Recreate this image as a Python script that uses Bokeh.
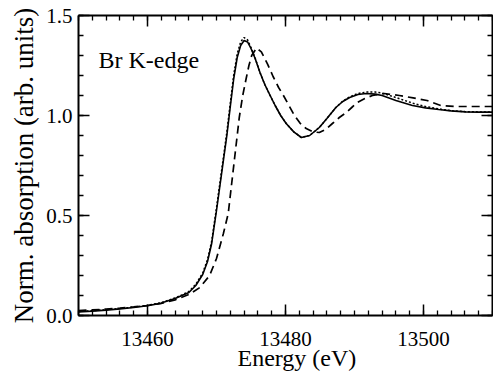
from bokeh.plotting import figure
from bokeh.models import (LinearAxis, SingleIntervalTicker, Label, Range1d, Title,
                          NumeralTickFormatter, CustomJSTickFormatter)
from bokeh.embed import file_html
from bokeh.resources import INLINE

# Br K-edge XANES spectra: normalized absorption vs photon energy
energy_solid = [13450, 13452, 13454, 13456, 13458, 13460, 13462, 13464, 13465, 13466,
                13467, 13468, 13468.7, 13469.3, 13470.0, 13470.5, 13471.0, 13471.5, 13472.0,
                13472.5, 13473.0, 13473.5, 13474.0, 13474.5, 13475.0, 13475.6, 13476.3,
                13477.0, 13477.7, 13478.5, 13479.3, 13480.1, 13481.2, 13482.3, 13483.5,
                13484.9, 13486.0, 13487.3, 13488.3, 13489.3, 13490.5, 13491.7, 13493.0,
                13494.0, 13496.0, 13498.4, 13500.3, 13502.2, 13504.0, 13506.1, 13508.0, 13510.0]
absorb_solid = [0.018, 0.022, 0.027, 0.033, 0.040, 0.049, 0.062, 0.085, 0.100, 0.115,
                0.150, 0.205, 0.270, 0.360, 0.525, 0.650, 0.775, 0.900, 1.045,
                1.185, 1.290, 1.350, 1.375, 1.368, 1.335, 1.285, 1.215,
                1.155, 1.105, 1.050, 1.000, 0.960, 0.918, 0.890, 0.900,
                0.940, 0.985, 1.040, 1.070, 1.090, 1.105, 1.110, 1.107,
                1.100, 1.075, 1.050, 1.038, 1.030, 1.023, 1.018, 1.017, 1.017]

energy_dotted = [13450, 13452, 13454, 13456, 13458, 13460, 13462, 13464, 13465, 13466,
                 13467, 13468, 13468.7, 13469.3, 13470.0, 13470.5, 13471.0, 13471.5, 13472.0,
                 13472.5, 13473.0, 13473.5, 13474.0, 13474.5, 13475.0, 13475.6, 13476.3,
                 13477.0, 13477.7, 13478.5, 13479.3, 13480.1, 13481.2, 13482.3, 13483.5,
                 13484.9, 13486.0, 13487.3, 13488.3, 13489.3, 13490.5, 13491.7, 13493.0,
                 13494.0, 13496.0, 13498.4, 13500.3, 13502.2, 13504.0, 13506.1, 13508.0, 13510.0]
absorb_dotted = [0.020, 0.024, 0.029, 0.035, 0.042, 0.051, 0.064, 0.088, 0.103, 0.120,
                 0.156, 0.212, 0.280, 0.372, 0.538, 0.665, 0.790, 0.917, 1.062,
                 1.203, 1.308, 1.368, 1.390, 1.378, 1.340, 1.287, 1.215,
                 1.155, 1.105, 1.050, 1.000, 0.960, 0.918, 0.890, 0.900,
                 0.940, 0.985, 1.040, 1.072, 1.093, 1.110, 1.117, 1.117,
                 1.112, 1.090, 1.062, 1.045, 1.033, 1.024, 1.019, 1.018, 1.018]

energy_dashed = [13450, 13452, 13454, 13456, 13458, 13460, 13462, 13464, 13466, 13467.6,
                 13469.0, 13470.0, 13471.0, 13471.7, 13472.2, 13472.7, 13473.3, 13473.8,
                 13474.3, 13474.7, 13475.1, 13475.8, 13476.5, 13477.4, 13478.2, 13479.0,
                 13479.7, 13480.5, 13481.3, 13482.1, 13483.0, 13484.0, 13484.9, 13485.8,
                 13486.8, 13487.8, 13488.8, 13489.6, 13490.4, 13491.5, 13492.6, 13494.3,
                 13496.5, 13498.5, 13500.5, 13502.5, 13504.6, 13507.0, 13510.0]
absorb_dashed = [0.025, 0.028, 0.032, 0.037, 0.043, 0.050, 0.060, 0.078, 0.105, 0.140,
                 0.200, 0.285, 0.410, 0.510, 0.660, 0.810, 0.990, 1.100,
                 1.185, 1.250, 1.300, 1.337, 1.318, 1.257, 1.195, 1.140,
                 1.100, 1.050, 1.000, 0.962, 0.935, 0.918, 0.915, 0.930,
                 0.960, 0.990, 1.015, 1.040, 1.065, 1.085, 1.100, 1.110,
                 1.100, 1.088, 1.075, 1.050, 1.045, 1.045, 1.045]

x_tick_interval = 20
y_tick_interval = 0.5

SERIF = "Liberation Serif"

p = figure(width=493, height=372, output_backend="svg", toolbar_location=None,
           x_range=Range1d(13450, 13510), y_range=Range1d(0, 1.5),
           x_axis_type=None, y_axis_type=None,
           min_border_left=78, min_border_right=1, min_border_top=15, min_border_bottom=57)
p.outline_line_color = None
p.xgrid.visible = False
p.ygrid.visible = False
p.background_fill_color = "white"
p.border_fill_color = "white"


def frame_axis(axis, ticker, labels):
    axis.ticker = ticker
    axis.axis_line_width = 2
    axis.axis_line_color = "black"
    axis.major_tick_in = 11
    axis.major_tick_out = 0
    axis.minor_tick_in = 5
    axis.minor_tick_out = 0
    axis.major_tick_line_width = 1.5
    axis.minor_tick_line_width = 1.3
    axis.major_tick_line_color = "black"
    axis.minor_tick_line_color = "black"
    if labels:
        axis.major_label_text_font = SERIF
        axis.major_label_text_font_size = "21px"
        axis.major_label_text_color = "black"
    else:
        # mirrored frame side: ticks only
        axis.formatter = CustomJSTickFormatter(code="return ''")
        axis.major_label_text_font_size = "0px"
        axis.major_label_standoff = 0
    return axis


x_ticker = SingleIntervalTicker(interval=x_tick_interval, num_minor_ticks=10)
y_ticker = SingleIntervalTicker(interval=y_tick_interval, num_minor_ticks=5)

bottom = frame_axis(LinearAxis(formatter=NumeralTickFormatter(format="0")), x_ticker, True)
bottom.major_label_standoff = 16
p.add_layout(bottom, "below")

left = frame_axis(LinearAxis(formatter=NumeralTickFormatter(format="0.0")), y_ticker, True)
left.major_label_standoff = 6
left.axis_label = "Norm. absorption (arb. units)"
left.axis_label_text_font = SERIF
left.axis_label_text_font_size = "27px"
left.axis_label_text_font_style = "normal"
left.axis_label_text_color = "black"
left.axis_label_standoff = 4
p.add_layout(left, "left")

top = frame_axis(LinearAxis(), SingleIntervalTicker(interval=x_tick_interval, num_minor_ticks=10), False)
p.add_layout(top, "above")
right = frame_axis(LinearAxis(), SingleIntervalTicker(interval=y_tick_interval, num_minor_ticks=5), False)
p.add_layout(right, "right")

# x-axis title, left-aligned with an offset so it sits under 13480
x_title = Title(text="Energy (eV)", align="left", offset=159, standoff=-12)
x_title.text_font = SERIF
x_title.text_font_size = "24px"
x_title.text_font_style = "normal"
x_title.text_color = "black"
p.add_layout(x_title, "below")

# spectra
p.line(energy_dotted, absorb_dotted, line_color="black", line_width=1.5, line_dash="2 2")
p.line(energy_solid, absorb_solid, line_color="black", line_width=1.6)
p.line(energy_dashed, absorb_dashed, line_color="black", line_width=1.7, line_dash="8 5")

p.add_layout(Label(x=13452.9, y=1.28, text="Br K-edge", text_font=SERIF,
                   text_font_size="24px", text_color="black", text_baseline="alphabetic"))

open("out.html", "w").write(file_html(p, INLINE))
